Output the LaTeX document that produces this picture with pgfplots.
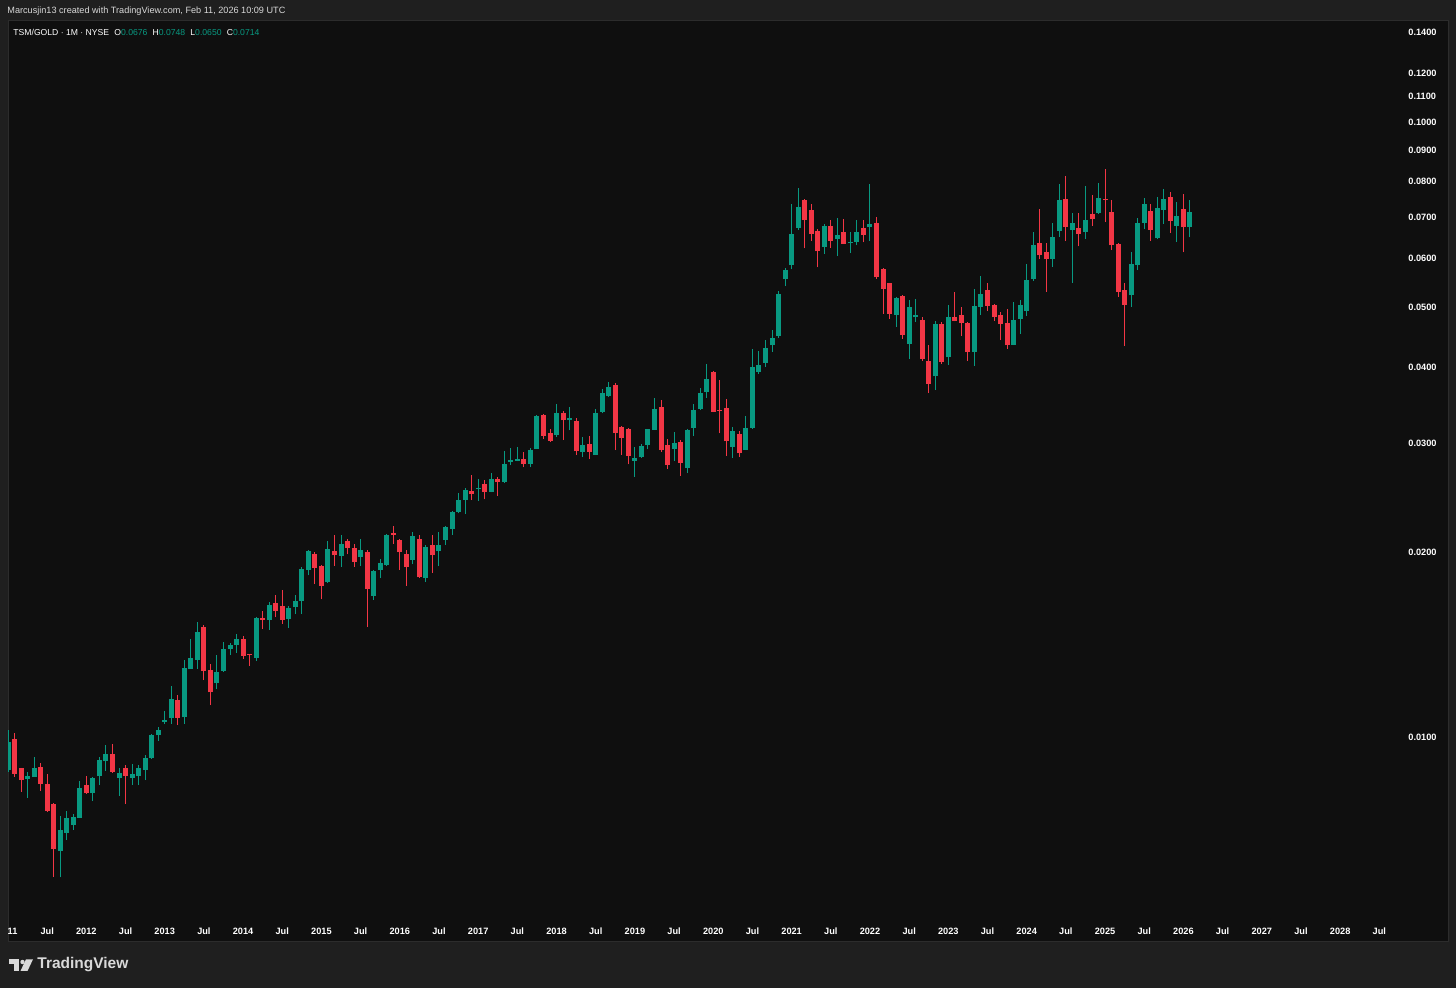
\documentclass[border=0pt]{standalone}
\usepackage{fontspec}
\setmainfont{Liberation Sans}
\usepackage{pgfplots}
\usepackage{pgfplotstable}
\pgfplotsset{compat=1.18}

\definecolor{tvbg}{HTML}{1F1F1F}
\definecolor{tvpanel}{HTML}{0F0F0F}
\definecolor{tvborder}{HTML}{2C2C2C}
\definecolor{tvgreen}{HTML}{089981}
\definecolor{tvred}{HTML}{F23645}
\definecolor{tvtext}{HTML}{D9D9D9}

% monthly candles, m = months since Jan 2011
\pgfplotstableread{
m o h l c
0 0.00883 0.01027 0.00877 0.00980
3 0.00854 0.00878 0.00796 0.00865
4 0.00862 0.00929 0.00861 0.00890
8 0.00652 0.00744 0.00591 0.00706
9 0.00699 0.00758 0.00680 0.00738
10 0.00719 0.00751 0.00706 0.00742
11 0.00739 0.00848 0.00738 0.00827
13 0.00811 0.00861 0.00787 0.00857
14 0.00863 0.00929 0.00835 0.00916
15 0.00913 0.00972 0.00881 0.00937
17 0.00857 0.00892 0.00802 0.00875
19 0.00857 0.00904 0.00835 0.00870
20 0.00863 0.00899 0.00835 0.00892
21 0.00884 0.00934 0.00851 0.00925
22 0.00925 0.01012 0.00921 0.01007
23 0.01006 0.01038 0.00986 0.01027
24 0.01058 0.01102 0.01050 0.01066
25 0.01075 0.01210 0.01050 0.01154
27 0.01076 0.01334 0.01050 0.01294
28 0.01291 0.01444 0.01291 0.01342
29 0.01335 0.01538 0.01291 0.01482
32 0.01223 0.01359 0.01195 0.01276
33 0.01282 0.01427 0.01276 0.01390
34 0.01391 0.01422 0.01359 0.01411
35 0.01410 0.01471 0.01371 0.01444
38 0.01344 0.01567 0.01331 0.01561
40 0.01550 0.01658 0.01494 0.01641
43 0.01557 0.01633 0.01507 0.01620
44 0.01625 0.01704 0.01585 0.01665
45 0.01663 0.01890 0.01585 0.01875
46 0.01867 0.02015 0.01832 0.02007
49 0.01787 0.02084 0.01780 0.02019
51 0.01969 0.02131 0.01892 0.02060
54 0.01962 0.02101 0.01899 0.02015
56 0.01697 0.01869 0.01671 0.01862
57 0.01869 0.01950 0.01813 0.01919
58 0.01902 0.02139 0.01897 0.02131
62 0.01940 0.02155 0.01909 0.02123
64 0.01813 0.02051 0.01787 0.02034
66 0.02005 0.02158 0.01899 0.02051
67 0.02091 0.02203 0.02051 0.02195
68 0.02178 0.02331 0.02131 0.02323
69 0.02323 0.02494 0.02311 0.02429
70 0.02429 0.02537 0.02305 0.02527
72 0.02532 0.02627 0.02423 0.02545
74 0.02506 0.02691 0.02499 0.02625
76 0.02599 0.02919 0.02592 0.02783
77 0.02804 0.02947 0.02770 0.02819
78 0.02812 0.02962 0.02808 0.02831
80 0.02783 0.02956 0.02745 0.02930
81 0.02942 0.03340 0.02940 0.03327
84 0.03098 0.03484 0.03079 0.03365
86 0.03274 0.03441 0.03154 0.03301
88 0.02908 0.03075 0.02853 0.02981
90 0.02878 0.03414 0.02875 0.03365
91 0.03381 0.03676 0.03361 0.03627
92 0.03585 0.03784 0.03576 0.03708
96 0.02812 0.02959 0.02650 0.02842
97 0.02850 0.02996 0.02842 0.02973
98 0.02988 0.03176 0.02937 0.03164
99 0.03159 0.03558 0.03158 0.03414
102 0.02940 0.03134 0.02815 0.03011
104 0.02741 0.03170 0.02691 0.03158
105 0.03184 0.03476 0.03087 0.03403
106 0.03414 0.03690 0.03403 0.03627
107 0.03644 0.04038 0.03562 0.03820
111 0.02962 0.03189 0.02842 0.03146
113 0.02933 0.03327 0.02930 0.03180
114 0.03180 0.04279 0.03170 0.03992
115 0.03924 0.04245 0.03894 0.04027
116 0.04063 0.04419 0.04001 0.04291
117 0.04341 0.04592 0.04234 0.04454
118 0.04489 0.05321 0.04454 0.05260
119 0.05552 0.05783 0.05413 0.05749
120 0.05857 0.07352 0.05765 0.06578
121 0.06733 0.07812 0.06688 0.07277
125 0.06271 0.06829 0.06110 0.06777
127 0.06461 0.06982 0.06057 0.06554
129 0.06360 0.06621 0.06127 0.06393
130 0.06377 0.06933 0.06303 0.06621
132 0.06759 0.07933 0.06416 0.06829
136 0.04862 0.05194 0.04648 0.05175
138 0.04362 0.05138 0.04122 0.05005
139 0.04816 0.05157 0.04737 0.04866
142 0.03860 0.04755 0.03670 0.04696
144 0.04144 0.05036 0.04032 0.04816
148 0.04229 0.05357 0.04017 0.05023
149 0.05010 0.05620 0.04857 0.05260
154 0.04344 0.05100 0.04341 0.04767
155 0.04788 0.05138 0.04528 0.05036
156 0.04940 0.05872 0.04848 0.05548
157 0.05554 0.06628 0.05517 0.06305
160 0.05988 0.06855 0.05819 0.06504
161 0.06654 0.07933 0.06511 0.07481
163 0.06671 0.07109 0.05482 0.06863
165 0.06636 0.07872 0.06461 0.06941
167 0.07117 0.07972 0.07104 0.07534
172 0.05235 0.06143 0.05010 0.05886
173 0.05857 0.06974 0.05749 0.06863
174 0.06863 0.07520 0.06704 0.07352
176 0.06471 0.07563 0.06449 0.07248
177 0.07198 0.07787 0.06840 0.07509
179 0.06787 0.07425 0.06385 0.07045
181 0.06760 0.07480 0.06500 0.07140
}\greencandles

\pgfplotstableread{
m o h l c
1 0.00993 0.01014 0.00862 0.00871
2 0.00890 0.00892 0.00815 0.00851
5 0.00894 0.00908 0.00818 0.00839
6 0.00839 0.00870 0.00755 0.00759
7 0.00777 0.00780 0.00592 0.00657
12 0.00835 0.00863 0.00808 0.00810
16 0.00939 0.00975 0.00874 0.00877
18 0.00889 0.00899 0.00778 0.00865
26 0.01149 0.01169 0.01047 0.01075
30 0.01509 0.01521 0.01238 0.01280
31 0.01285 0.01314 0.01127 0.01182
36 0.01441 0.01458 0.01340 0.01356
37 0.01364 0.01366 0.01306 0.01359
39 0.01561 0.01601 0.01498 0.01552
41 0.01650 0.01704 0.01567 0.01605
42 0.01633 0.01734 0.01528 0.01552
47 0.01987 0.02000 0.01773 0.01887
48 0.01897 0.01904 0.01674 0.01762
50 0.02007 0.02131 0.01899 0.01975
52 0.02086 0.02097 0.01982 0.02029
53 0.02027 0.02058 0.01892 0.01926
55 0.02000 0.02015 0.01509 0.01742
59 0.02147 0.02203 0.02060 0.02135
60 0.02091 0.02099 0.01870 0.01997
61 0.01982 0.02015 0.01762 0.01890
63 0.02099 0.02131 0.01813 0.01818
65 0.02049 0.02131 0.01850 0.01975
71 0.02516 0.02668 0.02429 0.02484
73 0.02579 0.02618 0.02436 0.02506
75 0.02627 0.02644 0.02466 0.02597
79 0.02831 0.02911 0.02745 0.02783
82 0.03340 0.03352 0.03057 0.03090
83 0.03126 0.03171 0.03020 0.03031
85 0.03365 0.03394 0.03042 0.03274
87 0.03266 0.03304 0.02875 0.02915
89 0.02996 0.03090 0.02831 0.02908
93 0.03737 0.03772 0.02930 0.03122
94 0.03192 0.03205 0.02878 0.03067
95 0.03171 0.03184 0.02777 0.02867
100 0.03441 0.03537 0.02911 0.02933
101 0.02981 0.03050 0.02728 0.02770
103 0.03020 0.03042 0.02660 0.02794
108 0.03924 0.03938 0.03378 0.03381
109 0.03403 0.03808 0.03118 0.03390
110 0.03427 0.03546 0.02867 0.03027
112 0.03110 0.03142 0.02853 0.02899
122 0.07472 0.07500 0.06233 0.06933
123 0.07198 0.07352 0.06416 0.06586
124 0.06654 0.06704 0.05806 0.06166
126 0.06777 0.06933 0.06247 0.06416
128 0.06628 0.06959 0.06337 0.06343
131 0.06725 0.06925 0.06377 0.06554
133 0.06847 0.07017 0.05559 0.05592
134 0.05767 0.05790 0.04881 0.05357
135 0.05469 0.05475 0.04788 0.04881
137 0.05214 0.05234 0.04445 0.04511
140 0.04763 0.04830 0.04089 0.04122
141 0.04094 0.04341 0.03627 0.03755
143 0.04690 0.04732 0.04043 0.04073
145 0.04821 0.05289 0.04745 0.04750
146 0.04866 0.05005 0.04489 0.04708
147 0.04714 0.04732 0.04094 0.04229
150 0.05335 0.05469 0.04931 0.05023
151 0.05036 0.05061 0.04750 0.04816
152 0.04857 0.04913 0.04423 0.04696
153 0.04714 0.04968 0.04279 0.04335
158 0.06372 0.07216 0.05988 0.06073
159 0.06150 0.06366 0.05300 0.05988
162 0.07500 0.08173 0.06409 0.06759
164 0.06733 0.07109 0.06281 0.06578
166 0.07090 0.07621 0.06787 0.06959
168 0.07509 0.08392 0.06881 0.07481
169 0.07144 0.07472 0.06197 0.06305
170 0.06343 0.06360 0.05201 0.05300
171 0.05337 0.05469 0.04324 0.05048
175 0.07171 0.07368 0.06409 0.06681
178 0.07555 0.07708 0.06604 0.06907
180 0.07221 0.07641 0.06143 0.06743
}\redcandles

\pgfplotsset{
  candle/.style 2 args={draw=none, mark=none, forget plot,
    mark options={draw=none, fill=none}, mark size=0pt,
    error bars/.cd, y dir=plus, y explicit, error mark=none,
    error bar style={draw=#1, line width=#2}},
}

\begin{document}
\begin{tikzpicture}
\fill[tvbg] (0,0) rectangle (728bp,494bp);
\fill[tvpanel] (4bp,23bp) rectangle (724bp,483.5bp);
\draw[tvborder, line width=0.5bp] (4bp,23bp) rectangle (724bp,483.5bp);

\begin{axis}[
  at={(4bp,34bp)}, anchor=south west,
  scale only axis, width=693.5bp, height=449.5bp,
  ymode=log,
  xmin=0, xmax=212.4,
  ymin=0.0050389, ymax=0.14611,
  axis line style={draw=none},
  tick style={draw=none},
  major tick length=0pt,
  yminorticks=false,
  ytick={0.01,0.02,0.03,0.04,0.05,0.06,0.07,0.08,0.09,0.1,0.11,0.12,0.14},
  yticklabels={0.0100,0.0200,0.0300,0.0400,0.0500,0.0600,0.0700,0.0800,0.0900,0.1000,0.1100,0.1200,0.1400},
  yticklabel pos=right,
  yticklabel style={anchor=west, inner sep=0pt, xshift=6.5bp, text=white,
    font=\fontsize{4.6bp}{5bp}\selectfont\bfseries},
  xtick={0.7,6,12,18,24,30,36,42,48,54,60,66,72,78,84,90,96,102,108,114,120,126,132,138,144,150,156,162,168,174,180,186,192,198,204,210},
  xticklabels={11,Jul,2012,Jul,2013,Jul,2014,Jul,2015,Jul,2016,Jul,2017,Jul,2018,Jul,2019,Jul,2020,Jul,2021,Jul,2022,Jul,2023,Jul,2024,Jul,2025,Jul,2026,Jul,2027,Jul,2028,Jul},
  xticklabel style={anchor=center, inner sep=0pt, yshift=-5.5bp, text=white,
    font=\fontsize{4.6bp}{5bp}\selectfont\bfseries},
]
% wicks
\addplot[candle={tvgreen}{0.5bp}]
  table[x=m, y=l, y error expr={\thisrow{h}-\thisrow{l}}] {\greencandles};
\addplot[candle={tvred}{0.5bp}]
  table[x=m, y=l, y error expr={\thisrow{h}-\thisrow{l}}] {\redcandles};
% bodies
\addplot[candle={tvgreen}{2.5bp}]
  table[x=m, y=o, y error expr={\thisrow{c}-\thisrow{o}}] {\greencandles};
\addplot[candle={tvred}{2.5bp}]
  table[x=m, y=c, y error expr={\thisrow{o}-\thisrow{c}}] {\redcandles};
\end{axis}

% header and legend
\node[anchor=west, inner sep=0pt, text=tvtext] at (3.5bp,488.2bp)
  {\resizebox{139bp}{!}{Marcusjin13 created with TradingView.com, Feb 11, 2026 10:09 UTC}};
\node[anchor=west, inner sep=0pt] at (6.5bp,478bp)
  {\resizebox{123bp}{!}{\color{white}TSM/GOLD · 1M · NYSE\hspace{0.6em}O\textcolor{tvgreen}{0.0676}\hspace{0.6em}H\textcolor{tvgreen}{0.0748}\hspace{0.6em}L\textcolor{tvgreen}{0.0650}\hspace{0.6em}C\textcolor{tvgreen}{0.0714}}};

% TradingView logo
\fill[tvtext] (4.5bp,12.15bp) rectangle (9.5bp,14.35bp);
\fill[tvtext] (7bp,8.5bp) rectangle (9.5bp,14.35bp);
\fill[tvtext] (11.25bp,13bp) circle (1.1bp);
\fill[tvtext] (13bp,14.35bp) -- (16.5bp,14.35bp) -- (13.75bp,8.5bp) -- (10.25bp,8.5bp) -- cycle;
\node[anchor=west, inner sep=0pt, text=tvtext] at (18.5bp,11.5bp)
  {\resizebox{45.5bp}{!}{\bfseries TradingView}};

\pgfresetboundingbox
\useasboundingbox (0,0) rectangle (728bp,494bp);
\end{tikzpicture}
\end{document}
